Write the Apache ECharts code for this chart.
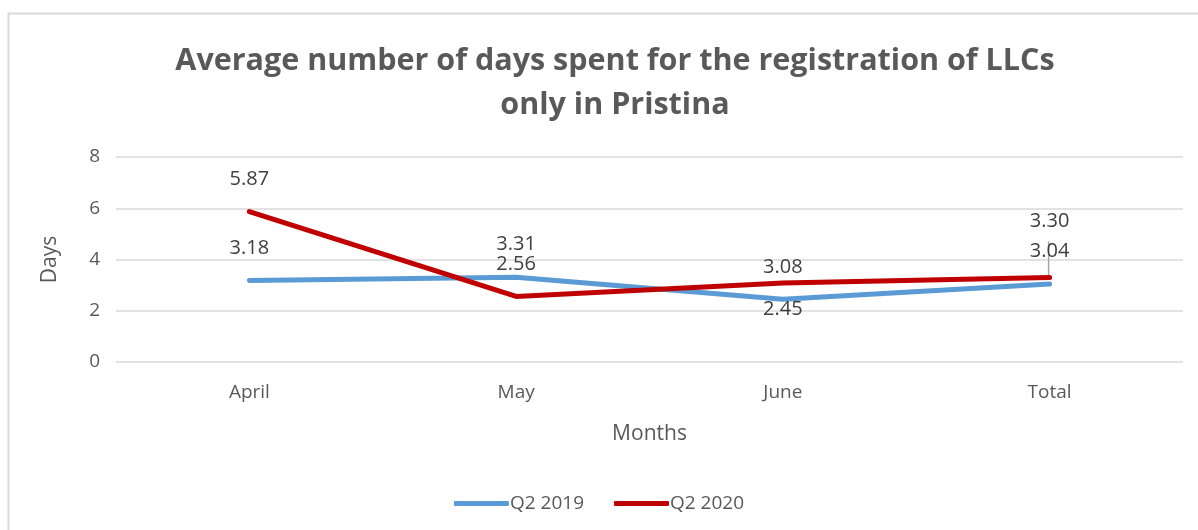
<!DOCTYPE html>
<html>
<head>
<meta charset="utf-8">
<script src="https://cdn.jsdelivr.net/npm/echarts@6/dist/echarts.min.js"></script>
<style>
  html, body { margin: 0; padding: 0; background: #fff; }
  #main { width: 1198px; height: 530px; }
</style>
</head>
<body>
<div id="main"></div>
<script>
// chart data
const months = ['April', 'May', 'June', 'Total']
const q2019 = [3.18, 3.31, 2.45, 3.04]
const q2020 = [5.87, 2.56, 3.08, 3.30]
const yTicks = [0, 2, 4, 6, 8]

// label placement per point (Excel moved some by hand)
const pos2019 = ['top', 'top', 'bottom', 'top']
const dist2019 = [22, 22, 0, 22]
const pos2020 = ['top', 'top', 'top', 'top']
const dist2020 = [22, 22, 5, 46]

const FONT = '"Open Sans", "Liberation Sans", sans-serif'

function mkData (vals, pos, dist) {
  return vals.map((v, i) => ({
    value: v,
    label: { position: pos[i], distance: dist[i] }
  }))
}

const chart = echarts.init(document.getElementById('main'))
const option = {
  animation: false,
  textStyle: { fontFamily: FONT },
  title: {
    text: 'Average number of days spent for the registration of LLCs\nonly in Pristina',
    left: 610, // centre of the title, textAlign centre
    top: 34,
    textAlign: 'center',
    textStyle: {
      fontFamily: FONT,
      fontSize: 30.5,
      fontWeight: 'bold',
      color: '#595959',
      lineHeight: 44
    }
  },
  legend: {
    bottom: 12,
    left: 'center',
    itemWidth: 55,
    itemHeight: 5,
    itemGap: 30,
    icon: 'roundRect',
    textStyle: { fontSize: 19, color: '#595959', padding: [0, 0, 0, -4] },
    data: ['Q2 2019', 'Q2 2020']
  },
  grid: { left: 116, right: 15, top: 157, bottom: 168 },
  xAxis: {
    type: 'category',
    data: months,
    name: 'Months',
    nameLocation: 'middle',
    nameGap: 62,
    nameTextStyle: { fontSize: 21, color: '#595959' },
    axisLine: { show: false },
    axisTick: { show: false },
    axisLabel: { fontSize: 19, color: '#595959', margin: 21 }
  },
  yAxis: {
    type: 'value',
    min: yTicks[0],
    max: yTicks[yTicks.length - 1],
    interval: 2,
    name: 'Days',
    nameLocation: 'middle',
    nameGap: 55,
    nameTextStyle: { fontSize: 21, color: '#595959' },
    axisLine: { show: false },
    axisTick: { show: false },
    axisLabel: { fontSize: 19, color: '#595959', margin: 16 },
    splitLine: { lineStyle: { color: '#d9d9d9', width: 1.5 } }
  },
  series: [
    {
      name: 'Q2 2019',
      type: 'line',
      data: mkData(q2019, pos2019, dist2019),
      symbol: 'circle',
      symbolSize: 1,
      lineStyle: { color: '#5b9bd5', width: 5, cap: 'round', join: 'round' },
      itemStyle: { color: '#5b9bd5' },
      label: { show: true, fontSize: 20, color: '#404040', formatter: p => p.value.toFixed(2) }
    },
    {
      name: 'Q2 2020',
      type: 'line',
      data: mkData(q2020, pos2020, dist2020),
      symbol: 'circle',
      symbolSize: 1,
      lineStyle: { color: '#c00000', width: 5, cap: 'round', join: 'round' },
      itemStyle: { color: '#c00000' },
      label: { show: true, fontSize: 20, color: '#404040', formatter: p => p.value.toFixed(2) }
    }
  ]
}
chart.setOption(option)

// outer border + leader line for the moved Total label
const pt = chart.convertToPixel({ seriesIndex: 1 }, [3, q2020[3]])
chart.setOption({
  graphic: [
    {
      type: 'rect',
      shape: { x: 8.5, y: 13.5, width: 1300, height: 600 },
      style: { fill: 'none', stroke: '#d9d9d9', lineWidth: 2 },
      silent: true
    },
    {
      type: 'line',
      shape: { x1: pt[0] - 1, y1: pt[1] - 36, x2: pt[0] - 1, y2: pt[1] },
      style: { stroke: '#a6a6a6', lineWidth: 1.5 },
      silent: true
    }
  ]
})
</script>
</body>
</html>
